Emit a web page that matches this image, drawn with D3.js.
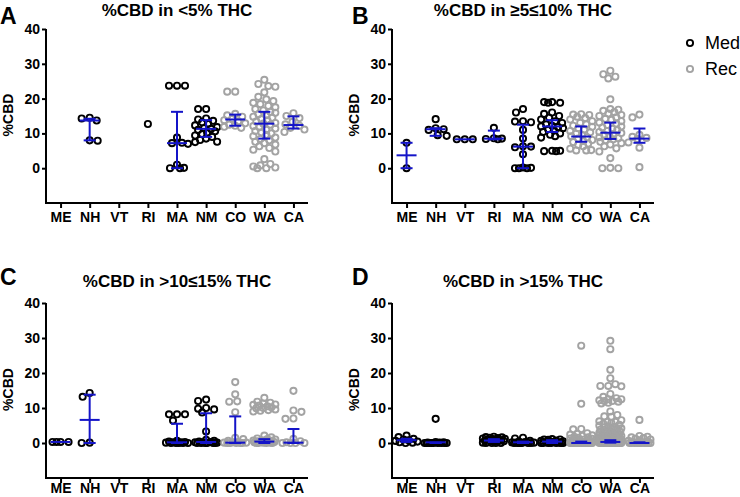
<!DOCTYPE html>
<html><head><meta charset="utf-8">
<script src="https://cdn.jsdelivr.net/npm/d3@7"></script>
<style>
body{margin:0;background:#fff}
svg text{font-family:"Liberation Sans",Arial,sans-serif}
</style>
</head><body>
<svg id="chart" width="740" height="497"></svg>
<script>
const categories = ["ME","NH","VT","RI","MA","NM","CO","WA","CA"];
const recStates = ["CO","WA","CA"];
const yTicks = [0,10,20,30,40];
const panelLetters = ["A","B","C","D"];
const panelTitles = ["%CBD in <5% THC","%CBD in \u22655\u226410% THC","%CBD in >10\u226415% THC","%CBD in >15% THC"];
const legendLabels = ["Med","Rec"];
const yLabel = "%CBD";

// Panel A: <5% THC
const valuesA = [
  [],
  [14.5, 14.3, 13.7, 8.0, 7.9],
  [],
  [12.7],
  [23.7, 23.7, 23.7, 8.8, 7.3, 7.2, 7.0, 1.0, 0.1, 0.0, 0.0],
  [17.0, 17.0, 14.3, 14.0, 13.6, 13.2, 12.8, 12.3, 11.8, 11.5, 11.3, 11.0, 10.6, 10.2, 9.8, 9.4, 9.0, 8.5, 8.1, 7.6, 7.5],
  [22.0, 22.0, 15.6, 15.2, 14.8, 14.2, 13.8, 13.4, 12.9, 12.5, 12.2, 11.9, 11.6],
  [25.4, 24.2, 23.6, 23.4, 21.8, 20.5, 19.8, 19.3, 18.8, 18.4, 17.9, 17.5, 17.0, 16.6, 16.2, 15.9, 15.5, 15.2, 14.8, 14.5, 14.1, 13.8, 13.4, 13.0, 12.8, 12.5, 12.1, 11.8, 11.4, 11.0, 10.7, 10.3, 10.0, 9.6, 9.2, 8.8, 8.4, 8.0, 7.6, 7.2, 6.8, 6.3, 5.8, 5.3, 4.8, 2.6, 1.2, 0.8, 0.5, 0.2, 0.0, 0.0],
  [15.8, 15.0, 14.4, 13.3, 12.6, 12.2, 11.6, 11.1, 10.4]
];
const medianA = [null, 13.7, null, null, 7.2, 11.3, 14.0, 12.8, 12.4];
const q1A     = [null, 8.0,  null, null, 0.0, 9.0, 12.2, 8.5, 11.4];
const q3A     = [null, 14.2, null, null, 16.2, 13.8, 15.4, 16.2, 14.9];

// Panel B: >=5<=10% THC
const valuesB = [
  [7.3, 0.0],
  [14.1, 11.5, 11.2, 11.0, 9.5, 9.3],
  [8.3, 8.3, 8.3],
  [11.6, 8.6, 8.5, 8.4, 8.3],
  [17.0, 16.0, 13.5, 13.4, 13.2, 11.0, 8.5, 6.3, 6.2, 6.0, 4.0, 0.2, 0.1, 0.0, 0.0, 0.0],
  [19.0, 19.0, 18.8, 18.8, 16.0, 15.6, 15.0, 14.5, 14.0, 13.5, 13.0, 12.6, 12.2, 12.0, 11.8, 11.5, 11.2, 10.8, 10.4, 10.0, 9.6, 9.2, 8.8, 5.0, 5.0, 4.9, 4.9],
  [15.5, 15.4, 15.3, 14.8, 14.4, 14.0, 13.5, 13.0, 12.6, 12.2, 11.9, 11.5, 11.1, 10.7, 10.3, 9.9, 9.5, 9.2, 8.9, 8.5, 8.1, 7.8, 7.5, 7.1, 6.7, 6.3, 5.6, 5.2, 5.1, 5.1],
  [28.0, 27.0, 26.3, 25.8, 19.8, 17.0, 16.8, 16.5, 16.1, 15.7, 15.3, 15.0, 14.6, 14.2, 13.9, 13.5, 13.1, 12.8, 12.4, 12.0, 11.7, 11.3, 11.0, 10.7, 10.4, 10.1, 9.8, 9.5, 9.2, 8.9, 8.6, 8.3, 8.0, 7.6, 7.2, 6.8, 6.3, 5.7, 4.8, 2.9, 0.1, 0.0, 0.0],
  [15.4, 14.6, 9.6, 9.0, 8.7, 8.4, 7.4, 5.9, 0.3]
];
const medianB = [3.7, 11.2, 8.3, 8.5, 6.2, 12.0, 9.1, 10.2, 8.5];
const q1B     = [0.0, 9.3, 8.3, 8.3, 0.0, 10.4, 7.6, 8.4, 7.3];
const q3B     = [7.3, 11.5, 8.3, 10.8, 12.5, 13.8, 12.0, 13.1, 11.4];

// Panel C: >10<=15% THC
const valuesC = [
  [0.3, 0.3, 0.3, 0.3],
  [14.3, 13.2, 0.1, 0.0],
  [],
  [],
  [8.2, 8.2, 8.2, 6.4, 0.6, 0.4, 0.3, 0.2, 0.2, 0.1, 0.0, 0.0, 0.0, 0.0, 0.0],
  [12.4, 12.0, 10.0, 9.8, 9.6, 8.7, 3.3, 0.9, 0.6, 0.4, 0.3, 0.2, 0.2, 0.1, 0.0, 0.0, 0.0, 0.0, 0.0, 0.0],
  [17.4, 13.9, 11.9, 11.8, 8.8, 1.5, 1.1, 0.6, 0.3, 0.2, 0.1, 0.1, 0.0, 0.0, 0.0, 0.0, 0.0],
  [12.9, 11.8, 11.5, 11.3, 11.0, 10.9, 10.7, 10.5, 10.2, 10.0, 9.9, 9.6, 9.4, 9.2, 9.0, 2.1, 1.6, 1.3, 1.1, 1.0, 0.8, 0.7, 0.6, 0.5, 0.5, 0.4, 0.3, 0.3, 0.2, 0.2, 0.1, 0.1, 0.0, 0.0, 0.0, 0.0],
  [14.9, 9.3, 8.9, 7.0, 6.9, 1.2, 0.5, 0.2, 0.0, 0.0, 0.0, 0.0]
];
const medianC = [0.3, 6.6, null, null, 0.2, 0.3, 0.1, 0.4, 0.1];
const q1C     = [0.3, 0.0, null, null, 0.0, 0.0, 0.0, 0.0, 0.0];
const q3C     = [0.3, 13.8, null, null, 5.5, 8.5, 7.6, 1.1, 4.0];

// Panel D: >15% THC
const valuesD = [
  [2.1, 1.7, 1.2, 1.0, 0.8, 0.6, 0.4, 0.2, 0.1, 0.0],
  [6.9, 0.3, 0.2, 0.1, 0.1, 0.0, 0.0, 0.0, 0.0, 0.0, 0.0, 0.0, 0.0, 0.0],
  [],
  [1.8, 1.7, 1.6, 1.5, 1.4, 1.3, 1.2, 1.1, 1.0, 0.9, 0.8, 0.7, 0.6, 0.5, 0.4, 0.3, 0.2, 0.1, 0.0, 0.0, 0.0, 0.0],
  [1.5, 1.3, 0.6, 0.4, 0.3, 0.2, 0.1, 0.1, 0.0, 0.0, 0.0, 0.0, 0.0, 0.0],
  [1.1, 1.0, 1.0, 0.9, 0.7, 0.6, 0.5, 0.4, 0.3, 0.2, 0.1, 0.0, 0.0, 0.0, 0.0, 0.0, 0.0, 0.0],
  [27.8, 11.2, 4.0, 3.9, 2.8, 2.6, 2.4, 2.2, 2.0, 1.8, 1.6, 1.5, 1.3, 1.2, 1.0, 0.9, 0.8, 0.7, 0.6, 0.5, 0.4, 0.3, 0.3, 0.2, 0.2, 0.1, 0.1, 0.1,
   0.0, 0.0, 0.0, 0.0, 0.0, 0.0, 0.0, 0.0, 0.0, 0.0, 0.0, 0.0, 0.0, 0.0, 0.0, 0.0, 0.0, 0.0, 0.0, 0.0],
  [29.2, 26.8, 20.9, 18.5, 16.8, 16.3, 16.3, 16.2, 14.0, 13.2, 12.8, 12.5, 12.5, 12.2, 12.0, 12.0, 11.8, 11.5, 11.3, 9.0, 8.0, 7.6, 7.5, 6.5, 6.2, 6.0, 6.0, 5.8, 5.5, 5.2,
   5.0, 4.8, 4.6, 4.5, 4.2, 4.0, 4.0, 3.8, 3.6, 3.5, 3.3, 3.2, 3.0, 3.0, 2.9, 2.8, 2.6, 2.5, 2.5, 2.4, 2.3, 2.2, 2.1, 2.0, 2.0, 1.9, 1.8, 1.8, 1.7, 1.6,
   1.5, 1.5, 1.4, 1.3, 1.2, 1.2, 1.1, 1.0, 1.0, 0.9, 0.9, 0.8, 0.8, 0.7, 0.7, 0.6, 0.6, 0.5, 0.5, 0.5, 0.4, 0.4, 0.4, 0.3, 0.3, 0.3, 0.3, 0.2, 0.2, 0.2,
   0.2, 0.1, 0.1, 0.1, 0.1, 0.1, 0.0, 0.0, 0.0, 0.0, 0.0, 0.0, 0.0, 0.0, 0.0, 0.0, 0.0, 0.0, 0.0, 0.0, 0.0, 0.0, 0.0, 0.0, 0.0, 0.0],
  [6.6, 2.0, 1.8, 1.6, 1.4, 1.2, 1.0, 0.8, 0.6, 0.4, 0.3, 0.2, 0.1, 0.0, 0.0, 0.0, 0.0, 0.0, 0.0, 0.0, 0.0, 0.0, 0.0]
];
const medianD = [0.8, 0.2, null, 0.7, 0.2, 0.4, 0.0, 0.3, 0.0];
const q1D     = [0.3, 0.0, null, 0.3, 0.0, 0.0, 0.0, 0.1, 0.0];
const q3D     = [1.2, 0.1, null, 1.1, 0.4, 0.8, 0.4, 0.8, 0.2];

const COL_MED = "#000000", COL_REC = "#a3a3a3", COL_BAR = "#1414c8";
const svg = d3.select("#chart");

const panels = [
  {vals: valuesA, med: medianA, q1: q1A, q3: q3A, left: 46,  top: 29,  bottom: 203, letterX: 0,   letterY: 24,  titleY: 16, pad: 4},
  {vals: valuesB, med: medianB, q1: q1B, q3: q3B, left: 392, top: 29,  bottom: 203, letterX: 352, letterY: 24,  titleY: 16, pad: 4},
  {vals: valuesC, med: medianC, q1: q1C, q3: q3C, left: 46,  top: 303, bottom: 478, letterX: 0,   letterY: 285, titleY: 287, pad: 0},
  {vals: valuesD, med: medianD, q1: q1D, q3: q3D, left: 392, top: 303, bottom: 478, letterX: 352, letterY: 285, titleY: 287, pad: 0}
];
const plotW = 262;

function swarm(vals, cx, y, maxW) {
  const placed = [];
  const D = 7.2;
  const sorted = vals.slice().sort((a, b) => b - a);
  sorted.forEach(v => {
    const py = y(v);
    let best = cx, bestScore = -1, done = false;
    for (let k = 0; k <= maxW && !done; k += 1) {
      const opts = k === 0 ? [0] : (placed.length % 2 ? [-k, k] : [k, -k]);
      for (const s of opts) {
        const px = cx + s;
        let md = Infinity;
        for (const p of placed) {
          const d = Math.hypot(p.x - px, p.y - py);
          if (d < md) md = d;
        }
        if (md >= D) { best = px; done = true; break; }
        if (md > bestScore) { bestScore = md; best = px; }
      }
    }
    placed.push({x: best, y: py, v});
  });
  return placed;
}

panels.forEach((p, pi) => {
  const x = d3.scalePoint().domain(categories).range([p.left, p.left + plotW]).padding(0.5);
  const y = d3.scaleLinear().domain([-10, 40]).range([p.bottom, p.top]);
  const g = svg.append("g");

  const ya = g.append("g").attr("transform", `translate(${p.left},0)`)
    .call(d3.axisLeft(y).tickValues(yTicks).tickSize(4).tickSizeOuter(0).tickPadding(2));
  const xa = g.append("g").attr("transform", `translate(0,${p.bottom})`)
    .call(d3.axisBottom(x).tickSize(5).tickSizeOuter(0).tickPadding(p.pad));
  [ya, xa].forEach(a => {
    a.select(".domain").attr("stroke", "#000").attr("stroke-width", 2);
    a.selectAll(".tick line").attr("stroke", "#000").attr("stroke-width", 2);
    a.selectAll(".tick text").attr("fill", "#000").attr("font-size", 14).attr("font-weight", "bold")
      .attr("font-family", "'Liberation Sans', Arial, sans-serif");
  });
  xa.select(".domain").attr("d", `M${p.left - 1},0H${p.left + plotW}`);
  ya.select(".domain").attr("d", `M0,${p.bottom + 1}V${p.top}`);

  categories.forEach((c, ci) => {
    const vals = p.vals[ci];
    if (!vals.length) return;
    const pts = swarm(vals, x(c), y, 11);
    g.append("g").selectAll("circle").data(pts).join("circle")
      .attr("cx", d => d.x).attr("cy", d => d.y).attr("r", 3.1)
      .attr("fill", "none")
      .attr("stroke", recStates.includes(c) ? COL_REC : COL_MED)
      .attr("stroke-width", 1.9);
  });

  categories.forEach((c, ci) => {
    const m = p.med[ci];
    if (m === null) return;
    const cx = x(c);
    const bg = g.append("g").attr("stroke", COL_BAR).attr("stroke-width", 2).attr("fill", "none");
    const lo = p.q1[ci], hi = p.q3[ci];
    if (hi !== lo) {
      bg.append("line").attr("x1", cx).attr("x2", cx).attr("y1", y(lo)).attr("y2", y(hi));
      [lo, hi].forEach(q => bg.append("line").attr("x1", cx - 6).attr("x2", cx + 6).attr("y1", y(q)).attr("y2", y(q)));
    }
    bg.append("line").attr("x1", cx - 10).attr("x2", cx + 10).attr("y1", y(m)).attr("y2", y(m));
  });

  g.append("text").attr("x", p.left + plotW / 2).attr("y", p.titleY).attr("text-anchor", "middle")
    .attr("font-size", 17).attr("font-weight", "bold").text(panelTitles[pi]);
  g.append("text").attr("x", p.letterX).attr("y", p.letterY)
    .attr("font-size", 23).attr("font-weight", "bold").text(panelLetters[pi]);
  g.append("text").attr("transform", `translate(${p.left - 33},${(p.top + p.bottom) / 2 - 1}) rotate(-90)`)
    .attr("text-anchor", "middle").attr("font-size", 14).attr("font-weight", "bold").text(yLabel);
});

const leg = svg.append("g");
legendLabels.forEach((l, i) => {
  const yy = 43 + i * 26;
  leg.append("circle").attr("cx", 690).attr("cy", yy).attr("r", 3.1).attr("fill", "none")
    .attr("stroke", i === 0 ? COL_MED : COL_REC).attr("stroke-width", 1.9);
  leg.append("text").attr("x", 705).attr("y", yy + 6).attr("font-size", 18).text(l);
});
</script>
</body></html>
